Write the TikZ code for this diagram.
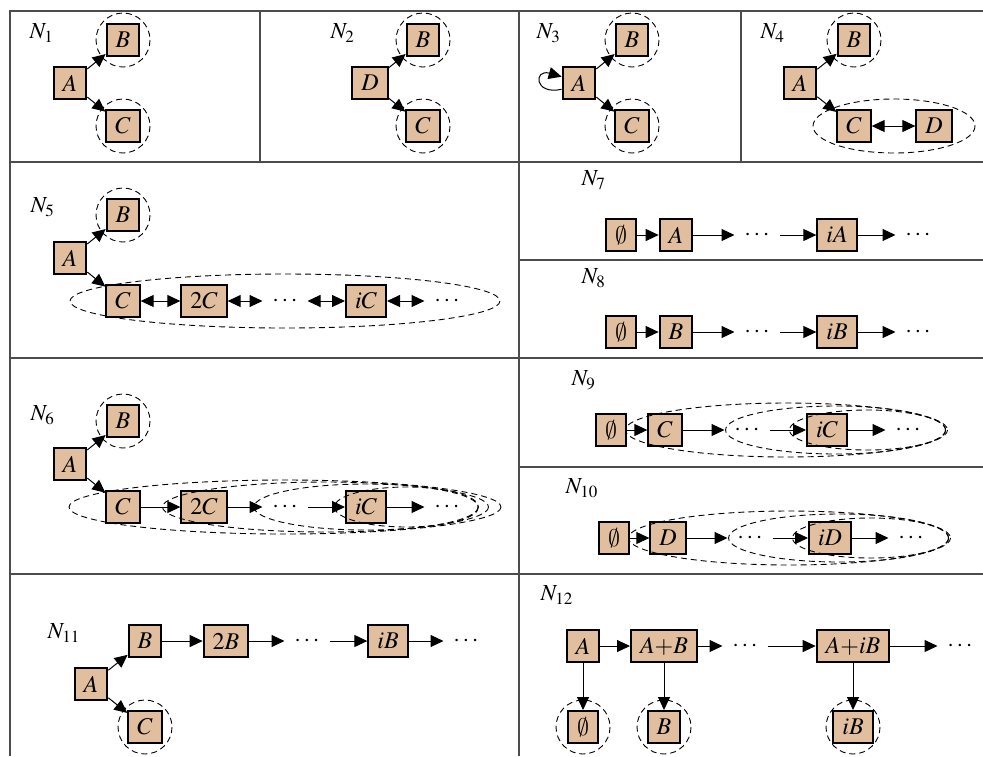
\documentclass[tikz,border=0pt]{standalone}
\usepackage{mathptmx}
\usetikzlibrary{arrows.meta,calc}
\DeclareSymbolFont{cmsymbols}{OMS}{cmsy}{m}{n}
\DeclareMathSymbol{\noset}{\mathord}{cmsymbols}{"3B}
\definecolor{boxfill}{HTML}{E0BE9E}
\begin{document}
\begin{tikzpicture}[x=0.5pt,y=-0.5pt,line width=0.5pt,
    >={Triangle[length=6.5pt,width=6pt]},
    box/.style={draw=black,line width=1pt,fill=boxfill,minimum height=16pt,inner xsep=4.5pt,inner ysep=0pt,font=\fontsize{12}{14}\selectfont},
    lbl/.style={anchor=west,inner sep=0pt,font=\fontsize{11.5}{13}\selectfont},
    dots/.style={minimum width=22pt,inner sep=0pt,font=\fontsize{12}{14}\selectfont},
    grp/.style={draw,dash pattern=on 3pt off 2pt,line width=0.45pt},
    grid/.style={black!70,line width=0.7pt}]
  \useasboundingbox (0,0) rectangle (983,756);

  % table
  \draw[grid] (983,11) -- (10,11) -- (10,756);
  \draw[grid] (10,162) -- (983,162) (10,358) -- (983,358) (10,574) -- (983,574);
  \draw[grid] (519,260) -- (983,260) (519,467) -- (983,467);
  \draw[grid] (260,11) -- (260,162) (741,11) -- (741,162) (519,11) -- (519,756);

  % N1
  \node[lbl] (N1) at (29,33) {$N_1$};
  \node[box] (A1) at (70,83) {$A$};
  \node[box] (B1) at (123,40) {$B$};
  \node[box] (C1) at (123,126) {$C$};
  \draw (A1) edge[->] (B1) (A1) edge[->] (C1);
  \draw[grp] (B1) circle[radius=27] (C1) circle[radius=27];

  % N2
  \node[lbl] (N2) at (330,33) {$N_2$};
  \node[box] (D2) at (370,83) {$D$};
  \node[box] (B2) at (423,40) {$B$};
  \node[box] (C2) at (423,126) {$C$};
  \draw (D2) edge[->] (B2) (D2) edge[->] (C2);
  \draw[grp] (B2) circle[radius=27] (C2) circle[radius=27];

  % N3
  \node[lbl] (N3) at (536,33) {$N_3$};
  \node[box] (A3) at (579,83) {$A$};
  \node[box] (B3) at (632,40) {$B$};
  \node[box] (C3) at (632,126) {$C$};
  \draw (A3) edge[->] (B3) (A3) edge[->] (C3);
  \draw[->] (A3.200) .. controls +(-28,6) and +(-28,-8) .. (A3.160);
  \draw[grp] (B3) circle[radius=27] (C3) circle[radius=27];

  % N4
  \node[lbl] (N4) at (760,33) {$N_4$};
  \node[box] (A4) at (800,83) {$A$};
  \node[box] (B4) at (854,40) {$B$};
  \node[box] (C4) at (854,126) {$C$};
  \node[box] (D4) at (934,126) {$D$};
  \draw (A4) edge[->] (B4) (A4) edge[->] (C4) (C4) edge[<->] (D4);
  \draw[grp] (B4) circle[radius=27];
  \draw[grp] ($(C4)!0.5!(D4)$) ellipse[x radius=81,y radius=27];

  % N5
  \node[lbl] (N5) at (30,207) {$N_5$};
  \node[box] (A5) at (70,258) {$A$};
  \node[box] (B5) at (123,215) {$B$};
  \node[box] (C5) at (123,301) {$C$};
  \node[box] (C25) at (204,301) {$2C$};
  \node[dots] (P5) at (285,301) {$\cdots$};
  \node[box] (iC5) at (366,301) {$iC$};
  \node[dots] (Q5) at (447,301) {$\cdots$};
  \draw (A5) edge[->] (B5) (A5) edge[->] (C5);
  \draw (C5) edge[<->] (C25) (C25) edge[<->] (P5) (P5) edge[<->] (iC5) (iC5) edge[<->] (Q5);
  \draw[grp] (B5) circle[radius=27];
  \draw[grp] ($(C5)!0.5!(Q5)$) ellipse[x radius=215,y radius=27];

  % N6
  \node[lbl] (N6) at (30,415) {$N_6$};
  \node[box] (A6) at (70,464) {$A$};
  \node[box] (B6) at (123,421) {$B$};
  \node[box] (C6) at (123,507) {$C$};
  \node[box] (C26) at (204,507) {$2C$};
  \node[dots] (P6) at (285,507) {$\cdots$};
  \node[box] (iC6) at (366,507) {$iC$};
  \node[dots] (Q6) at (447,507) {$\cdots$};
  \draw (A6) edge[->] (B6) (A6) edge[->] (C6);
  \draw (C6) edge[->] (C26) (C26) edge[->] (P6) (P6) edge[->] (iC6) (iC6) edge[->] (Q6);
  \draw[grp] (B6) circle[radius=27];
  \draw[grp] ($(C6)!0.5!(Q6)$) ellipse[x radius=216,y radius=27];
  \draw[grp] ($(C26)!0.5!(Q6)$) ellipse[x radius=163,y radius=25];
  \draw[grp] ($(P6)!0.5!(Q6)$) ellipse[x radius=112,y radius=23];
  \draw[grp] ($(iC6)!0.5!(Q6)$) ellipse[x radius=72,y radius=20];

  % N7
  \node[lbl] (N7) at (581,180) {$N_7$};
  \node[box] (E7) at (621,235) {$\noset$};
  \node[box] (A7) at (676,235) {$A$};
  \node[dots] (P7) at (757,235) {$\cdots$};
  \node[box] (iA7) at (837,235) {$iA$};
  \node[dots] (Q7) at (918,235) {$\cdots$};
  \draw (E7) edge[->] (A7) (A7) edge[->] (P7) (P7) edge[->] (iA7) (iA7) edge[->] (Q7);

  % N8
  \node[lbl] (N8) at (581,278) {$N_8$};
  \node[box] (E8) at (621,332) {$\noset$};
  \node[box] (B8) at (676,332) {$B$};
  \node[dots] (P8) at (757,332) {$\cdots$};
  \node[box] (iB8) at (837,332) {$iB$};
  \node[dots] (Q8) at (918,332) {$\cdots$};
  \draw (E8) edge[->] (B8) (B8) edge[->] (P8) (P8) edge[->] (iB8) (iB8) edge[->] (Q8);

  % N9
  \node[lbl] (N9) at (571,380) {$N_9$};
  \node[box] (E9) at (611,430) {$\noset$};
  \node[box] (C9) at (665,430) {$C$};
  \node[dots] (P9) at (747,430) {$\cdots$};
  \node[box] (iC9) at (827,430) {$iC$};
  \node[dots] (Q9) at (908,430) {$\cdots$};
  \draw (E9) edge[->] (C9) (C9) edge[->] (P9) (P9) edge[->] (iC9) (iC9) edge[->] (Q9);
  \draw[grp] ($(C9)!0.5!(Q9)$) ellipse[x radius=161,y radius=27];
  \draw[grp] ($(P9)!0.55!(Q9)$) ellipse[x radius=110,y radius=24];
  \draw[grp] ($(iC9)!0.5!(Q9)$) ellipse[x radius=78,y radius=20];

  % N10
  \node[lbl] (N10) at (565,488) {$N_{10}$};
  \node[box] (E10) at (614,538) {$\noset$};
  \node[box] (D10) at (668,538) {$D$};
  \node[dots] (P10) at (750,538) {$\cdots$};
  \node[box] (iD10) at (830,538) {$iD$};
  \node[dots] (Q10) at (911,538) {$\cdots$};
  \draw (E10) edge[->] (D10) (D10) edge[->] (P10) (P10) edge[->] (iD10) (iD10) edge[->] (Q10);
  \draw[grp] ($(D10)!0.5!(Q10)$) ellipse[x radius=161,y radius=27];
  \draw[grp] ($(P10)!0.55!(Q10)$) ellipse[x radius=110,y radius=24];
  \draw[grp] ($(iD10)!0.5!(Q10)$) ellipse[x radius=78,y radius=20];

  % N11
  \node[lbl] (N11) at (47,633) {$N_{11}$};
  \node[box] (A11) at (91,684) {$A$};
  \node[box] (B11) at (145,641) {$B$};
  \node[box] (C11) at (145,727) {$C$};
  \node[box] (B211) at (226,641) {$2B$};
  \node[dots] (P11) at (307,641) {$\cdots$};
  \node[box] (iB11) at (388,641) {$iB$};
  \node[dots] (Q11) at (466,641) {$\cdots$};
  \draw (A11) edge[->] (B11) (A11) edge[->] (C11);
  \draw (B11) edge[->] (B211) (B211) edge[->] (P11) (P11) edge[->] (iB11) (iB11) edge[->] (Q11);
  \draw[grp] (C11) circle[radius=27];

  % N12
  \node[lbl] (N12) at (540,595) {$N_{12}$};
  \node[box] (A12) at (583,646) {$A$};
  \node[box] (AB12) at (664,646) {$A{+}B$};
  \node[dots] (P12) at (745,646) {$\cdots$};
  \node[box] (AiB12) at (853,646) {$A{+}iB$};
  \node[dots] (Q12) at (960,646) {$\cdots$};
  \node[box] (E12) at (583,727) {$\noset$};
  \node[box] (B12) at (664,727) {$B$};
  \node[box] (iB12) at (853,727) {$iB$};
  \draw (A12) edge[->] (AB12) (AB12) edge[->] (P12) (P12) edge[->] (AiB12) (AiB12) edge[->] (Q12);
  \draw (A12) edge[->] (E12) (AB12) edge[->] (B12) (AiB12) edge[->] (iB12);
  \draw[grp] (E12) circle[radius=27] (B12) circle[radius=27] (iB12) circle[radius=27];
\end{tikzpicture}
\end{document}
